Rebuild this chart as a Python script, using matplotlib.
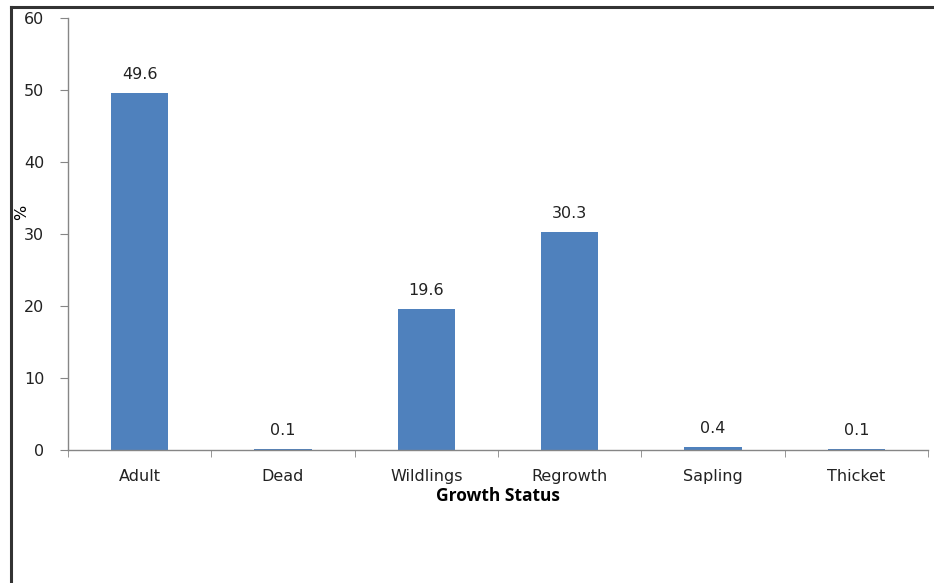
import matplotlib.pyplot as plt
from matplotlib.lines import Line2D

plt.rcParams['font.family'] = ['DejaVu Sans']

categories = ['Adult', 'Dead', 'Wildlings', 'Regrowth', 'Sapling', 'Thicket']
percent = [49.6, 0.1, 19.6, 30.3, 0.4, 0.1]
y_ticks = [0, 10, 20, 30, 40, 50, 60]

fig = plt.figure(figsize=(9.34, 5.83), dpi=100)
ax = fig.add_axes([68/934, 1-450/583, 860/934, 432/583])

x = list(range(len(categories)))
ax.bar(x, percent, width=0.4, color='#4F81BD', zorder=2)
for xi, v in zip(x, percent):
    ax.text(xi, v + 1.5, f'{v:.1f}', ha='center', va='bottom', fontsize=11.5, color='#222222')

ax.set_xlim(-0.5, len(categories) - 0.5)
ax.set_ylim(0, 60)
ax.set_yticks(y_ticks)
ax.tick_params(axis='y', labelsize=11.5, length=6, color='#868686', pad=11, labelcolor='#222222')

# category labels centred, tick marks between categories
ax.set_xticks(x)
ax.set_xticklabels(categories)
ax.tick_params(axis='x', which='major', length=0, labelsize=11.5, pad=14, labelcolor='#222222')
ax.set_xticks([i + 0.5 for i in range(-1, len(categories))], minor=True)
ax.tick_params(axis='x', which='minor', length=5, color='#868686', direction='out')

for s in ['top', 'right']:
    ax.spines[s].set_visible(False)
for s in ['left', 'bottom']:
    ax.spines[s].set_color('#868686')
    ax.spines[s].set_linewidth(1.0)

ax.set_xlabel('Growth Status', fontsize=12.5, fontweight='bold', family='Open Sans', labelpad=2)
ax.set_ylabel('%', fontsize=11.5)
ax.yaxis.set_label_coords(-0.045, 0.549)

# outer frame lines
fig.add_artist(Line2D([11/934, 11/934], [0, 1-7/583], transform=fig.transFigure, color='#333333', lw=2.2))
fig.add_artist(Line2D([11/934, 1], [1-7/583, 1-7/583], transform=fig.transFigure, color='#333333', lw=2.2))

fig.savefig('out.png', dpi=100)
plt.close(fig)
